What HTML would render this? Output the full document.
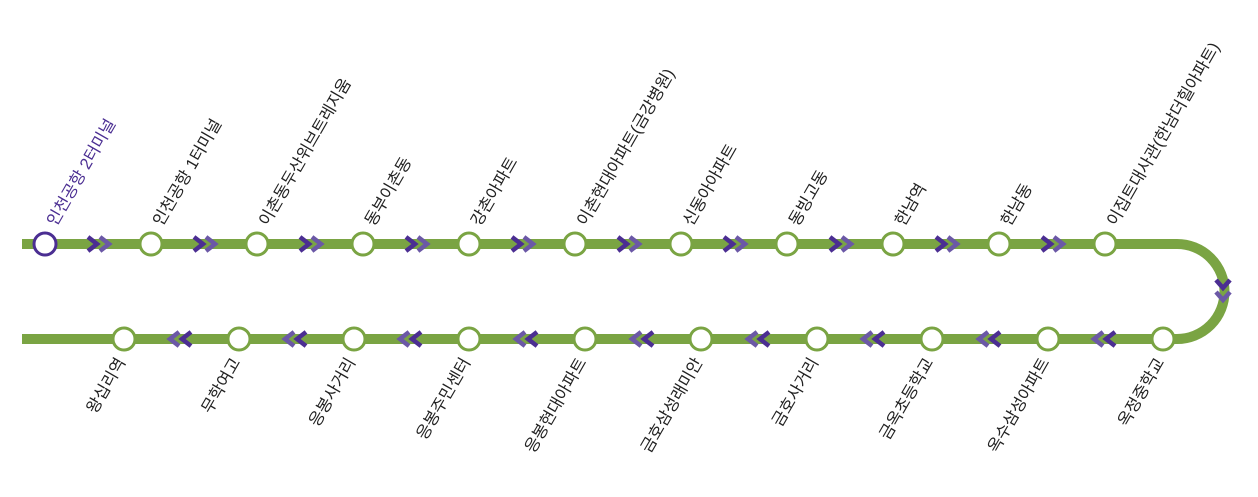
<!DOCTYPE html>
<html><head><meta charset="utf-8"><style>
html,body{margin:0;padding:0;background:#fff;}
svg{display:block;}
text{font-family:"Liberation Sans","Noto Sans CJK KR",sans-serif;font-size:16.5px;fill:#222;}
.b{text-anchor:end;}
.s{fill:#fff;stroke:#7aa443;stroke-width:3;}
</style></head><body>
<svg width="1258" height="497" viewBox="0 0 1258 497" xmlns="http://www.w3.org/2000/svg">
<defs>
<path id="cr" d="M-5 -7 L4 0 L-5 7" fill="none" stroke-width="4.5"/>
</defs>
<path d="M22 244 H1177 A47.5 47.5 0 0 1 1177 339 H22" fill="none" stroke="#7aa443" stroke-width="10"/>
<g stroke="#4b2e92">
<use href="#cr" x="93" y="244"/><use href="#cr" x="199" y="244"/><use href="#cr" x="305" y="244"/><use href="#cr" x="411" y="244"/><use href="#cr" x="517" y="244"/><use href="#cr" x="623" y="244"/><use href="#cr" x="729" y="244"/><use href="#cr" x="835" y="244"/><use href="#cr" x="941" y="244"/><use href="#cr" x="1047" y="244"/>
</g>
<g stroke="#6b58a6">
<use href="#cr" x="105" y="244"/><use href="#cr" x="211" y="244"/><use href="#cr" x="317" y="244"/><use href="#cr" x="423" y="244"/><use href="#cr" x="529" y="244"/><use href="#cr" x="635" y="244"/><use href="#cr" x="741" y="244"/><use href="#cr" x="847" y="244"/><use href="#cr" x="953" y="244"/><use href="#cr" x="1059" y="244"/>
</g>
<g stroke="#6b58a6" transform="scale(-1,1)">
<use href="#cr" x="-174" y="339"/><use href="#cr" x="-289" y="339"/><use href="#cr" x="-404" y="339"/><use href="#cr" x="-520" y="339"/><use href="#cr" x="-636" y="339"/><use href="#cr" x="-752" y="339"/><use href="#cr" x="-867" y="339"/><use href="#cr" x="-983" y="339"/><use href="#cr" x="-1098" y="339"/>
</g>
<g stroke="#4b2e92" transform="scale(-1,1)">
<use href="#cr" x="-186" y="339"/><use href="#cr" x="-301" y="339"/><use href="#cr" x="-416" y="339"/><use href="#cr" x="-532" y="339"/><use href="#cr" x="-648" y="339"/><use href="#cr" x="-764" y="339"/><use href="#cr" x="-879" y="339"/><use href="#cr" x="-995" y="339"/><use href="#cr" x="-1110" y="339"/>
</g>
<path d="M1216 280 L1223 288 L1230 280" fill="none" stroke="#4b2e92" stroke-width="4.5"/>
<path d="M1216 292 L1223 300 L1230 292" fill="none" stroke="#6b58a6" stroke-width="4.5"/>

<circle cx="45" cy="244" r="11" fill="#fff" stroke="#4b2e92" stroke-width="3"/>
<circle class="s" cx="151" cy="244" r="11"/><circle class="s" cx="257" cy="244" r="11"/><circle class="s" cx="363" cy="244" r="11"/><circle class="s" cx="469" cy="244" r="11"/><circle class="s" cx="575" cy="244" r="11"/><circle class="s" cx="681" cy="244" r="11"/><circle class="s" cx="787" cy="244" r="11"/><circle class="s" cx="893" cy="244" r="11"/><circle class="s" cx="999" cy="244" r="11"/><circle class="s" cx="1105" cy="244" r="11"/>
<circle class="s" cx="124" cy="339" r="11"/><circle class="s" cx="239" cy="339" r="11"/><circle class="s" cx="354" cy="339" r="11"/><circle class="s" cx="469" cy="339" r="11"/><circle class="s" cx="585" cy="339" r="11"/><circle class="s" cx="701" cy="339" r="11"/><circle class="s" cx="817" cy="339" r="11"/><circle class="s" cx="932" cy="339" r="11"/><circle class="s" cx="1048" cy="339" r="11"/><circle class="s" cx="1163" cy="339" r="11"/>

<text transform="translate(56,227) rotate(-60)" style="fill:#4b2e92">인천공항 2터미널</text>
<text transform="translate(162,227) rotate(-60)">인천공항 1터미널</text>
<text transform="translate(268,227) rotate(-60)">이촌동두산위브트레지움</text>
<text transform="translate(374,227) rotate(-60)">동부이촌동</text>
<text transform="translate(480,227) rotate(-60)">강촌아파트</text>
<text transform="translate(586,227) rotate(-60)">이촌현대아파트(금강병원)</text>
<text transform="translate(692,227) rotate(-60)">신동아아파트</text>
<text transform="translate(798,227) rotate(-60)">동빙고동</text>
<text transform="translate(904,227) rotate(-60)">한남역</text>
<text transform="translate(1010,227) rotate(-60)">한남동</text>
<text transform="translate(1116,227) rotate(-60)">이집트대사관(한남더힐아파트)</text>

<text class="b" transform="translate(126,362) rotate(-60)">왕십리역</text>
<text class="b" transform="translate(241,362) rotate(-60)">무학여고</text>
<text class="b" transform="translate(356,362) rotate(-60)">응봉사거리</text>
<text class="b" transform="translate(471,362) rotate(-60)">응봉주민센터</text>
<text class="b" transform="translate(587,362) rotate(-60)">응봉현대아파트</text>
<text class="b" transform="translate(703,362) rotate(-60)">금호삼성래미안</text>
<text class="b" transform="translate(819,362) rotate(-60)">금호사거리</text>
<text class="b" transform="translate(934,362) rotate(-60)">금옥초등학교</text>
<text class="b" transform="translate(1050,362) rotate(-60)">옥수삼성아파트</text>
<text class="b" transform="translate(1165,362) rotate(-60)">옥정중학교</text>
</svg>
</body></html>
